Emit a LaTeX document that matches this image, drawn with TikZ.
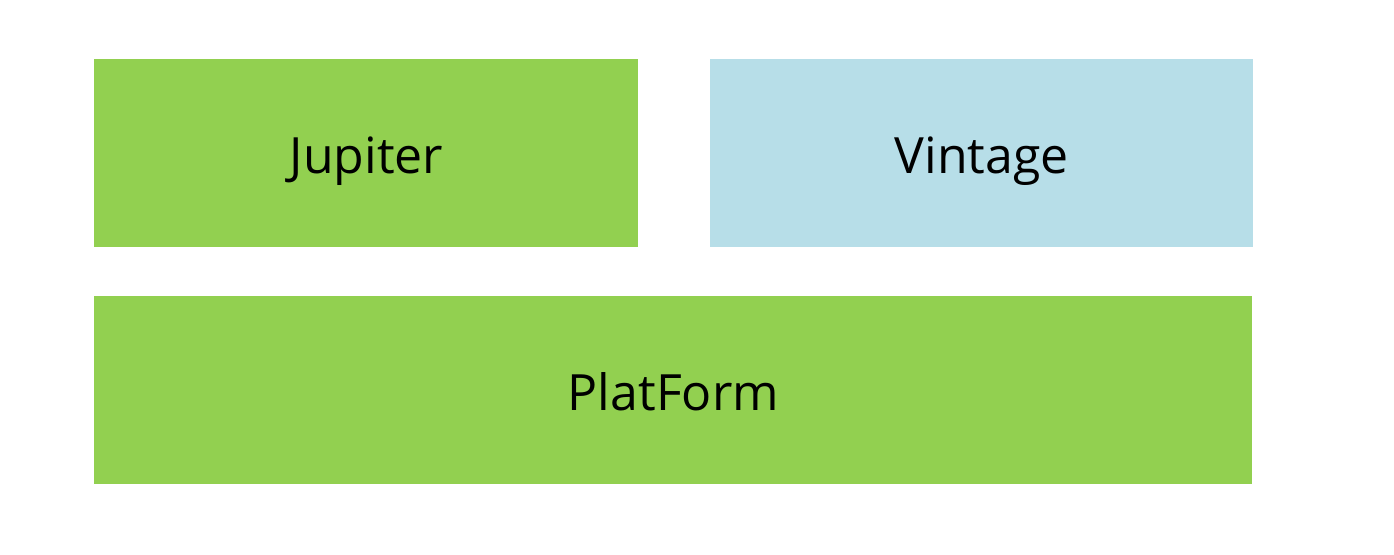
\documentclass[tikz,border=0pt]{standalone}
\usepackage{fontspec}
\setmainfont{Open Sans}
\usepackage{xcolor}
\usetikzlibrary{positioning}
\definecolor{layergreen}{HTML}{92D050}
\definecolor{layerblue}{HTML}{B7DEE8}

\begin{document}
\begin{tikzpicture}[x=1pt,y=1pt,node distance=35.5pt,
		layer/.style={draw=none,anchor=north west,inner sep=0pt,minimum height=94pt,text height=24pt,text depth=4pt,font=\fontsize{25}{30}\selectfont},
		half/.style={layer,minimum width=272pt,fill=layergreen},
		full/.style={layer,minimum width=579pt,fill=layergreen}]
			\useasboundingbox (0,0) rectangle (697,277.5);
			\node[half] (jupiter) at (47,248) {Jupiter};
			\node[half,fill=layerblue,minimum width=271.5pt] (vintage) [right=of jupiter.north east,anchor=north west] {Vintage};
			\node[full] (platform) [below=24pt of jupiter.south west,anchor=north west] {PlatForm};
			\end{tikzpicture}
\end{document}
